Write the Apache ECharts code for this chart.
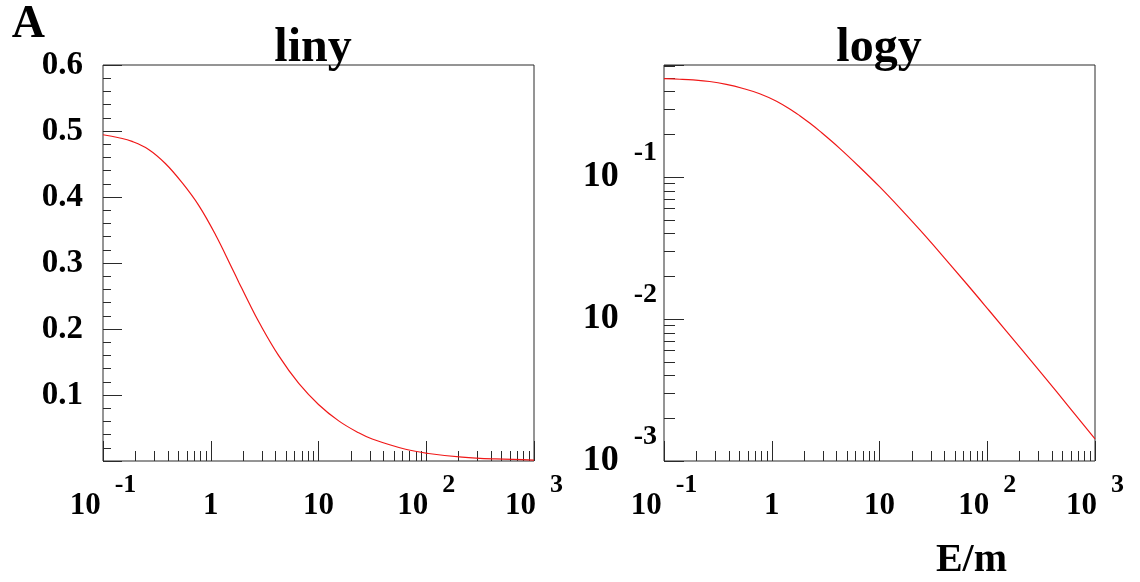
<!DOCTYPE html>
<html>
<head>
<meta charset="utf-8">
<script src="https://cdn.jsdelivr.net/npm/echarts@6/dist/echarts.min.js"></script>
<style>
  html, body { margin: 0; padding: 0; background: #fff; }
  #chart { width: 1140px; height: 582px; }
</style>
</head>
<body>
<div id="chart"></div>
<script>
// values: E/m and A
var energy = [0.1, 0.14, 0.186, 0.265, 0.379, 0.542, 0.773, 1.107, 1.58, 1.82, 2.25, 2.79,
  4.27, 6.56, 10.0, 15.4, 23.6, 31.5, 64.3, 105, 215, 440, 1000]
var asym = [0.4943, 0.4898, 0.4842, 0.4721, 0.4508, 0.4217, 0.3873, 0.3428, 0.2917, 0.2710,
  0.2404, 0.2109, 0.1596, 0.1175, 0.0857, 0.0608, 0.0427, 0.0333, 0.01774, 0.01140,
  0.00594, 0.00308, 0.00143]

var xRange = [0.1, 1000]
var yLinRange = [0, 0.6]
var yLogRange = [0.001, 0.617]
var minorMult = [2, 3, 4, 5, 6, 7, 8, 9]

var serif = 'Liberation Serif'
var tickColor = '#2a2a2a'
var lineColor = '#f01818'

var points = energy.map(function (e, i) { return [e, asym[i]] })

function log10 (v) { return Math.log(v) / Math.LN10 }

// minor tick positions (2..9 in each decade), in log space
function logMinor (range) {
  var out = []
  var lo = Math.floor(log10(range[0]) + 1e-9)
  var hi = Math.ceil(log10(range[1]) - 1e-9)
  for (var d = lo; d < hi; d++) {
    minorMult.forEach(function (k) {
      var v = log10(k) + d
      if (v > log10(range[0]) && v < log10(range[1])) out.push(v)
    })
  }
  return out
}

function powLabel (v) {
  var e = log10(v)
  var r = Math.round(e)
  if (Math.abs(e - r) > 1e-6) return ''
  if (r === 0) return '{b|1}'
  if (r === 1) return '{b|10}'
  return '{b|10}{e|' + r + '}'
}

// tall line box for the base, exponent pinned to the top of it
var xRich = {
  b: { fontFamily: serif, fontWeight: 'bold', fontSize: 31, lineHeight: 68, color: '#000' },
  e: { fontFamily: serif, fontWeight: 'bold', fontSize: 26, lineHeight: 22, verticalAlign: 'top', padding: [0, 0, 0, 14], color: '#000' }
}
var yRich = {
  b: { fontFamily: serif, fontWeight: 'bold', fontSize: 36, lineHeight: 76, color: '#000' },
  e: { fontFamily: serif, fontWeight: 'bold', fontSize: 28, lineHeight: 24, verticalAlign: 'top', padding: [0, 0, 0, 15], color: '#000' }
}

var gridL = { left: 103, right: 606, top: 65, bottom: 121 }
var gridR = { left: 664, right: 45, top: 65, bottom: 121 }

function mainLogX (gi, name) {
  return {
    type: 'log',
    gridIndex: gi,
    min: xRange[0],
    max: xRange[1],
    logBase: 10,
    name: name || '',
    nameLocation: 'end',
    nameGap: 0,
    nameTextStyle: {
      fontFamily: serif, fontWeight: 'bold', fontSize: 40, color: '#000',
      align: 'right', verticalAlign: 'top', padding: [80, 88, 0, 0]
    },
    axisLine: { show: false, onZero: false },
    axisTick: { inside: true, length: 20, lineStyle: { color: tickColor } },
    splitLine: { show: false },
    axisLabel: { margin: 11, formatter: powLabel, rich: xRich, showMinLabel: true, showMaxLabel: true, hideOverlap: false }
  }
}

function minorX (gi) {
  return {
    type: 'value',
    gridIndex: gi,
    min: log10(xRange[0]),
    max: log10(xRange[1]),
    axisLine: { show: false, onZero: false },
    axisLabel: { show: false },
    splitLine: { show: false },
    axisTick: { inside: true, length: 10, customValues: logMinor(xRange), lineStyle: { color: tickColor } }
  }
}

var titleFont = { fontFamily: serif, fontWeight: 'bold', fontSize: 48, color: '#000' }

var option = {
  backgroundColor: '#fff',
  animation: false,
  title: [
    { text: 'liny', left: 308, top: 20, textAlign: 'center', textStyle: titleFont },
    { text: 'logy', left: 874, top: 20, textAlign: 'center', textStyle: titleFont }
  ],
  grid: [
    Object.assign({ show: true, borderColor: tickColor, borderWidth: 1, backgroundColor: 'transparent' }, gridL),
    Object.assign({ show: true, borderColor: tickColor, borderWidth: 1, backgroundColor: 'transparent' }, gridR),
    Object.assign({ show: false }, gridL),
    Object.assign({ show: false }, gridR)
  ],
  xAxis: [
    mainLogX(0),
    mainLogX(1, 'E/m'),
    minorX(2),
    minorX(3)
  ],
  yAxis: [
    {
      type: 'value',
      gridIndex: 0,
      min: yLinRange[0],
      max: yLinRange[1],
      interval: 0.1,
      name: 'A',
      nameLocation: 'end',
      nameGap: 10,
      nameTextStyle: {
        fontFamily: serif, fontWeight: 'bold', fontSize: 46, color: '#000',
        align: 'right', verticalAlign: 'bottom', padding: [0, 58, 0, 0]
      },
      axisLine: { show: false, onZero: false },
      axisTick: { inside: true, length: 19, lineStyle: { color: tickColor } },
      minorTick: { show: true, splitNumber: 5, length: 8, lineStyle: { color: tickColor } },
      splitLine: { show: false },
      minorSplitLine: { show: false },
      axisLabel: {
        margin: 20,
        fontFamily: serif, fontWeight: 'bold', fontSize: 33, color: '#000',
        formatter: function (v) { return v === 0 ? '' : v.toFixed(1) }
      }
    },
    {
      type: 'log',
      gridIndex: 1,
      min: yLogRange[0],
      max: yLogRange[1],
      logBase: 10,
      axisLine: { show: false, onZero: false },
      axisTick: { inside: true, length: 20, lineStyle: { color: tickColor } },
      splitLine: { show: false },
      axisLabel: { margin: 7, formatter: powLabel, rich: yRich, showMinLabel: true, hideOverlap: false }
    },
    { type: 'value', gridIndex: 2, min: 0, max: 1, show: false, axisLine: { onZero: false } },
    {
      type: 'value',
      gridIndex: 3,
      min: log10(yLogRange[0]),
      max: log10(yLogRange[1]),
      axisLine: { show: false, onZero: false },
      axisLabel: { show: false },
      splitLine: { show: false },
      axisTick: { inside: true, length: 11, customValues: logMinor(yLogRange), lineStyle: { color: tickColor } }
    }
  ],
  series: [
    {
      name: 'liny',
      type: 'line',
      xAxisIndex: 0,
      yAxisIndex: 0,
      data: points,
      symbol: 'none',
      smooth: 0.4,
      lineStyle: { color: lineColor, width: 1.2 }
    },
    {
      name: 'logy',
      type: 'line',
      xAxisIndex: 1,
      yAxisIndex: 1,
      data: points,
      symbol: 'none',
      smooth: 0.4,
      lineStyle: { color: lineColor, width: 1.2 }
    }
  ]
}

var chart = echarts.init(document.getElementById('chart'), null, { renderer: 'canvas' })
chart.setOption(option)
window.addEventListener('resize', function () { chart.resize() })
</script>
</body>
</html>
